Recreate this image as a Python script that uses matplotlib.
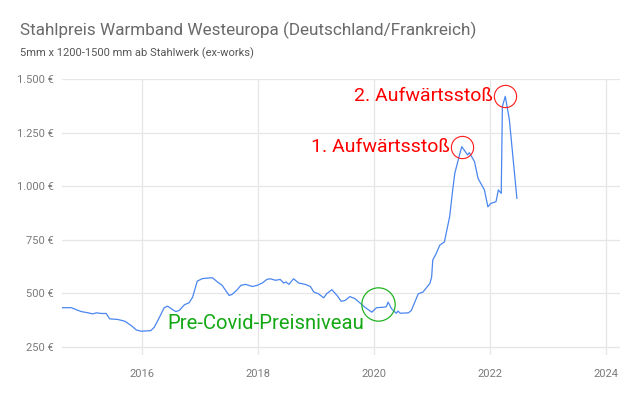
import matplotlib.pyplot as plt
from matplotlib.ticker import FuncFormatter

plt.rcParams['font.family'] = ['Roboto', 'DejaVu Sans']

# Warmband price, decimal year vs. EUR per tonne
years = [2014.61, 2014.78, 2014.87, 2014.95, 2015.07, 2015.15, 2015.21, 2015.30, 2015.38, 2015.44,
         2015.58, 2015.70, 2015.81, 2015.90, 2015.98, 2016.15, 2016.21, 2016.30, 2016.38, 2016.44,
         2016.53, 2016.58, 2016.64, 2016.73, 2016.81, 2016.87, 2016.95, 2017.04, 2017.21, 2017.30,
         2017.38, 2017.50, 2017.55, 2017.64, 2017.70, 2017.78, 2017.90, 2017.98, 2018.07, 2018.15,
         2018.21, 2018.30, 2018.38, 2018.44, 2018.48, 2018.53, 2018.61, 2018.70, 2018.81, 2018.90,
         2018.96, 2019.04, 2019.13, 2019.18, 2019.27, 2019.36, 2019.43, 2019.50, 2019.58, 2019.67,
         2019.76, 2019.84, 2019.96, 2020.04, 2020.16, 2020.21, 2020.24, 2020.30, 2020.38, 2020.41,
         2020.45, 2020.59, 2020.64, 2020.70, 2020.76, 2020.84, 2020.96, 2020.99, 2021.01, 2021.07,
         2021.13, 2021.21, 2021.30, 2021.36, 2021.39, 2021.47, 2021.51, 2021.57, 2021.61, 2021.64,
         2021.73, 2021.79, 2021.90, 2021.96, 2022.01, 2022.10, 2022.14, 2022.19, 2022.21, 2022.26,
         2022.33, 2022.46]
prices = [432, 432, 422, 414, 408, 403, 408, 405, 405, 380,
          377, 369, 349, 328, 322, 325, 341, 388, 432, 439,
          422, 414, 419, 446, 455, 481, 556, 568, 572, 552,
          536, 489, 494, 516, 536, 541, 531, 536, 547, 564,
          567, 560, 564, 547, 552, 541, 567, 547, 541, 531,
          505, 497, 478, 497, 516, 489, 462, 466, 484, 474,
          453, 434, 411, 432, 434, 437, 458, 427, 406, 416,
          406, 408, 419, 458, 497, 505, 545, 575, 655, 685,
          724, 739, 856, 997, 1060, 1145, 1184, 1161, 1145, 1156,
          1114, 1036, 982, 903, 919, 927, 982, 966, 1372, 1419,
          1310, 943]

x_ticks = [2016, 2018, 2020, 2022, 2024]
y_ticks = [250, 500, 750, 1000, 1250, 1500]

# annotated spots: (year, price, label)
peak1 = (2021.51, 1184, '1. Aufwärtsstoß')
peak2 = (2022.26, 1419, '2. Aufwärtsstoß')
pre_covid = (2020.07, 451, 'Pre-Covid-Preisniveau')

fig = plt.figure(figsize=(6.4, 3.96), dpi=100)
ax = fig.add_axes([0.097, 0.1035, 0.872, 0.697])

ax.plot(years, prices, color='#4a86f0', linewidth=0.9)

ax.set_xlim(2014.62, 2024.24)
ax.set_ylim(211, 1500)
ax.set_xticks(x_ticks)
ax.set_yticks(y_ticks)
ax.yaxis.set_major_formatter(FuncFormatter(lambda v, p: f'{int(v):,} €'.replace(',', '.')))
ax.grid(True, color='#e6e6e6', linewidth=0.9)
ax.tick_params(length=0, labelsize=8, colors='#7a7a7a', pad=6)
ax.tick_params(axis='x', pad=10)
for s in ax.spines.values():
    s.set_visible(False)

# circles and notes
for yr, val, txt in (peak1, peak2):
    ax.plot(yr, val, marker='o', markersize=16, markerfacecolor='none',
            markeredgecolor='#ff1a1a', markeredgewidth=0.8)
    ax.annotate(txt, (yr, val), xytext=(-8.5, 0), textcoords='offset points',
                ha='right', va='center', color='#ff0000', fontsize=14)

ax.plot(pre_covid[0], pre_covid[1], marker='o', markersize=24, markerfacecolor='none',
        markeredgecolor='#22b422', markeredgewidth=0.9)
ax.annotate(pre_covid[2], pre_covid[:2], xytext=(-10, -14), textcoords='offset points',
            ha='right', va='center', color='#13a813', fontsize=14.6)

fig.text(20 / 640, 1 - 30 / 396, 'Stahlpreis Warmband Westeuropa (Deutschland/Frankreich)',
         fontsize=12.3, color='#6a6a6a', va='center')
fig.text(20 / 640, 1 - 53 / 396, '5mm x 1200-1500 mm ab Stahlwerk (ex-works)',
         fontsize=8, color='#555555', va='center')

fig.savefig('out.png', dpi=100)
